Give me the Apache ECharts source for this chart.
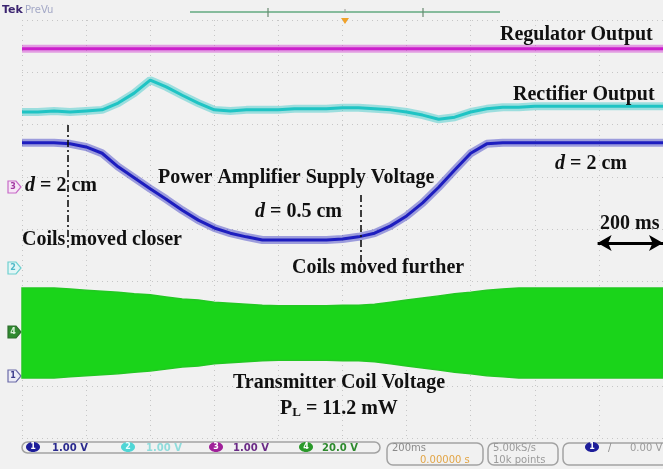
<!DOCTYPE html>
<html>
<head>
<meta charset="utf-8">
<script src="https://cdn.jsdelivr.net/npm/echarts@6/dist/echarts.min.js"></script>
<style>
  html, body { margin: 0; padding: 0; background: #f1f1f1; }
  #scope { width: 663px; height: 469px; }
</style>
</head>
<body>
<div id="scope"></div>
<script>
// time base: 200 ms/div, 10 div across, trigger at 0
const timeMs = [-1000, -950, -900, -850, -800, -750, -700, -650, -600, -550,
  -500, -450, -400, -350, -300, -250, -200, -150, -100, -50,
  0, 50, 100, 150, 200, 250, 300, 350, 400, 450,
  500, 550, 600, 650, 700, 750, 800, 850, 900, 950, 1000];

// trace positions in screen divisions (+4 top, -4 bottom)
const regulatorDiv = [3.45, 3.45, 3.45, 3.45, 3.45, 3.45, 3.45, 3.45, 3.45, 3.45,
  3.45, 3.45, 3.45, 3.45, 3.45, 3.45, 3.45, 3.45, 3.45, 3.45,
  3.45, 3.45, 3.45, 3.45, 3.45, 3.45, 3.45, 3.45, 3.45, 3.45,
  3.45, 3.45, 3.45, 3.45, 3.45, 3.45, 3.45, 3.45, 3.45, 3.45, 3.45];

const rectifierDiv = [2.24, 2.24, 2.26, 2.24, 2.26, 2.28, 2.41, 2.60, 2.85, 2.72,
  2.56, 2.41, 2.28, 2.26, 2.28, 2.28, 2.28, 2.30, 2.30, 2.30,
  2.32, 2.32, 2.30, 2.28, 2.24, 2.18, 2.10, 2.14, 2.24, 2.30,
  2.33, 2.33, 2.35, 2.35, 2.35, 2.35, 2.35, 2.35, 2.35, 2.35, 2.35];

const supplyDiv = [1.65, 1.65, 1.65, 1.63, 1.57, 1.45, 1.19, 0.98, 0.77, 0.57,
  0.36, 0.17, 0.02, -0.08, -0.15, -0.21, -0.21, -0.21, -0.21, -0.21,
  -0.19, -0.15, -0.08, 0.06, 0.25, 0.50, 0.80, 1.13, 1.45, 1.63,
  1.65, 1.65, 1.65, 1.65, 1.65, 1.65, 1.65, 1.65, 1.65, 1.65, 1.65];

// transmitter coil voltage envelope (upper / lower edge)
const coilTopDiv = [-1.13, -1.13, -1.13, -1.15, -1.17, -1.19, -1.21, -1.24, -1.26, -1.30,
  -1.34, -1.36, -1.40, -1.42, -1.44, -1.46, -1.47, -1.47, -1.47, -1.47,
  -1.46, -1.46, -1.44, -1.40, -1.36, -1.32, -1.28, -1.24, -1.21, -1.17,
  -1.15, -1.13, -1.13, -1.13, -1.13, -1.13, -1.13, -1.13, -1.13, -1.13, -1.13];
const coilBottomDiv = [-2.85, -2.85, -2.85, -2.83, -2.81, -2.79, -2.77, -2.74, -2.72, -2.68,
  -2.64, -2.62, -2.58, -2.56, -2.54, -2.52, -2.51, -2.51, -2.51, -2.51,
  -2.52, -2.52, -2.54, -2.58, -2.62, -2.66, -2.70, -2.74, -2.77, -2.81,
  -2.83, -2.85, -2.85, -2.85, -2.85, -2.85, -2.85, -2.85, -2.85, -2.85, -2.85];

// annotation markers (time ms, div)
const closerMark = [[-858, 1.99], [-858, -0.36]];
const furtherMark = [[56, 0.65], [56, -0.63]];
const scaleArrow = [[796, -0.27], [1000, -0.27]];

const pts = arr => arr.map((v, i) => [timeMs[i], v]);
const serif = '"Liberation Serif", "DejaVu Serif", serif';
const sans = '"DejaVu Sans", sans-serif';

function trace(name, data, color) {
  return [
    { name: name + '-fuzz', type: 'line', data: pts(data), symbol: 'none', silent: true,
      lineStyle: { color: color, width: 8, opacity: 0.4 }, z: 3 },
    { name: name, type: 'line', data: pts(data), symbol: 'none', silent: true,
      lineStyle: { color: color, width: 3 }, z: 4 }
  ];
}

// filled band between envelope edges
function renderBand(params, api) {
  if (params.dataIndex !== 0) return null;
  const upper = timeMs.map((t, i) => api.coord([t, coilTopDiv[i]]));
  const lower = timeMs.map((t, i) => api.coord([t, coilBottomDiv[i]])).reverse();
  return {
    type: 'polygon',
    shape: { points: upper.concat(lower) },
    style: { fill: '#1ad41a', stroke: '#22c822', lineWidth: 1.5 }
  };
}

function badge(cx, cy, fill, label, txtColor) {
  return [
    { type: 'ellipse', shape: { cx: cx, cy: cy, rx: 7, ry: 5 }, style: { fill: fill } },
    { type: 'text', style: { text: label, x: cx, y: cy, align: 'center', verticalAlign: 'middle',
      textAlign: 'center', textVerticalAlign: 'middle', font: 'bold 8px ' + sans, fill: txtColor || '#fff' } }
  ];
}

function txt(x, y, text, font, fill, rich) {
  return { type: 'text', z: 20, style: { text: text, x: x, y: y, font: font, fill: fill || '#111',
    verticalAlign: 'middle', textVerticalAlign: 'middle', rich: rich } };
}

function chMarker(y, stroke, fill, label, labelColor) {
  return [
    { type: 'polygon', shape: { points: [[8, y - 6], [16, y - 6], [21, y], [16, y + 6], [8, y + 6]] },
      style: { fill: fill, stroke: stroke, lineWidth: 1.2 } },
    { type: 'text', style: { text: label, x: 13, y: y, align: 'center', verticalAlign: 'middle',
      textAlign: 'center', textVerticalAlign: 'middle', font: 'bold 8px ' + sans, fill: labelColor } }
  ];
}

function box(x, y, w, h) {
  return { type: 'rect', shape: { x: x, y: y, width: w, height: h, r: 6 },
    style: { fill: 'none', stroke: '#a2a2a2', lineWidth: 1.5 } };
}

const big = 'bold 20px ' + serif;
const dItalic = { i: { fontStyle: 'italic', fontWeight: 'bold', fontSize: 20, fontFamily: serif } };

const chart = echarts.init(document.getElementById('scope'));
chart.setOption({
  animation: false,
  backgroundColor: '#f1f1f1',
  grid: { left: 22, top: 20, width: 646, height: 418 },
  xAxis: {
    type: 'value', min: -1000, max: 1000, interval: 200,
    axisLabel: { show: false }, axisTick: { show: false }, axisLine: { show: false },
    splitLine: { lineStyle: { color: '#c6c6c6', type: [1, 4] } }
  },
  yAxis: {
    type: 'value', min: -4, max: 4, interval: 1,
    axisLabel: { show: false }, axisTick: { show: false }, axisLine: { show: false },
    splitLine: { lineStyle: { color: '#c6c6c6', type: [1, 4] } }
  },
  series: [
    {
      name: 'Transmitter Coil Voltage', type: 'custom', silent: true, z: 2,
      data: timeMs.map((t, i) => [t, coilTopDiv[i], coilBottomDiv[i]]),
      encode: { x: 0, y: [1, 2] },
      renderItem: renderBand
    },
    ...trace('Regulator Output', regulatorDiv, '#cc1fcc'),
    ...trace('Rectifier Output', rectifierDiv, '#1fc4c4'),
    ...trace('Power Amplifier Supply Voltage', supplyDiv, '#1d1dbf'),
    {
      name: 'marks', type: 'line', data: [], silent: true,
      markLine: {
        silent: true, symbol: 'none', label: { show: false },
        lineStyle: { color: '#111', width: 1.6, type: [7, 3, 2, 3] },
        data: [
          [{ coord: closerMark[0] }, { coord: closerMark[1] }],
          [{ coord: furtherMark[0] }, { coord: furtherMark[1] }]
        ]
      }
    },
    {
      name: 'scale', type: 'line', data: [], silent: true,
      markLine: {
        silent: true, symbol: ['arrow', 'arrow'], symbolSize: [12, 14], label: { show: false },
        lineStyle: { color: '#000', width: 3, type: 'solid' },
        data: [[{ coord: scaleArrow[0] }, { coord: scaleArrow[1] }]]
      }
    }
  ],
  graphic: [
    // top bar
    txt(2, 10, 'Tek', 'bold 11px ' + sans, '#3b2470'),
    txt(25, 10, 'PreVu', '10px ' + sans, '#a3a8c6'),
    { type: 'line', shape: { x1: 190, y1: 12, x2: 500, y2: 12 }, style: { stroke: '#86bb9c', lineWidth: 2 } },
    { type: 'line', shape: { x1: 268, y1: 8, x2: 268, y2: 17 }, style: { stroke: '#6a8a72', lineWidth: 1.2 } },
    { type: 'line', shape: { x1: 423, y1: 8, x2: 423, y2: 17 }, style: { stroke: '#6a8a72', lineWidth: 1.2 } },
    { type: 'line', shape: { x1: 345, y1: 9, x2: 345, y2: 13 }, style: { stroke: '#9a9a9a', lineWidth: 1 } },
    { type: 'polygon', shape: { points: [[341, 18], [349, 18], [345, 24]] }, style: { fill: '#f0a22a' } },
    // channel ground markers
    ...chMarker(187, '#c76ac7', '#f6e6f6', '3', '#a23aa2'),
    ...chMarker(268, '#6fd0d0', '#e2f6f6', '2', '#4fb8c8'),
    ...chMarker(332, '#2f6f2f', '#2f8a2f', '4', '#d8f0d8'),
    ...chMarker(376, '#6a6aa8', '#ececf6', '1', '#3a3a8a'),
    // annotations
    txt(500, 35, 'Regulator Output', big),
    txt(513, 95, 'Rectifier Output', big),
    txt(158, 178, 'Power Amplifier Supply Voltage', big),
    txt(25, 186, '{i|d} = 2 cm', big, '#111', dItalic),
    txt(555, 164, '{i|d} = 2 cm', big, '#111', dItalic),
    txt(255, 212, '{i|d} = 0.5 cm', big, '#111', dItalic),
    txt(22, 240, 'Coils moved closer', big),
    txt(292, 268, 'Coils moved further', big),
    txt(600, 224, '200 ms', big),
    txt(233, 383, 'Transmitter Coil Voltage', big),
    txt(280, 409, 'P{s|L} = 11.2 mW', big, '#111',
      { s: { fontSize: 13, fontWeight: 'bold', fontFamily: serif, padding: [8, 0, 0, 0] } }),
    // bottom status bar
    box(22, 442, 358, 11),
    ...badge(33, 447, '#1d1d9a', '1'),
    txt(52, 448, '1.00 V', 'bold 10px ' + sans, '#2a2a8e'),
    ...badge(128, 447, '#4fd6d6', '2', '#e8ffff'),
    txt(146, 448, '1.00 V', 'bold 10px ' + sans, '#8fdcdc'),
    ...badge(216, 447, '#a0209a', '3'),
    txt(233, 448, '1.00 V', 'bold 10px ' + sans, '#6a2a86'),
    ...badge(306, 447, '#2a992a', '4'),
    txt(322, 448, '20.0 V', 'bold 10px ' + sans, '#2e8a2e'),
    box(387, 443, 96, 22),
    txt(392, 448, '200ms', '10px ' + sans, '#8a8a8a'),
    txt(420, 460, '0.00000 s', '10px ' + sans, '#e2a546'),
    box(488, 443, 70, 22),
    txt(493, 448, '5.00kS/s', '10px ' + sans, '#9a9a9a'),
    txt(493, 460, '10k points', '10px ' + sans, '#9a9a9a'),
    box(563, 443, 110, 22),
    ...badge(592, 447, '#1d1d9a', '1'),
    txt(608, 448, '/', '10px ' + sans, '#8a8a8a'),
    txt(630, 448, '0.00 V', '10px ' + sans, '#9a9a9a')
  ]
});
</script>
</body>
</html>
